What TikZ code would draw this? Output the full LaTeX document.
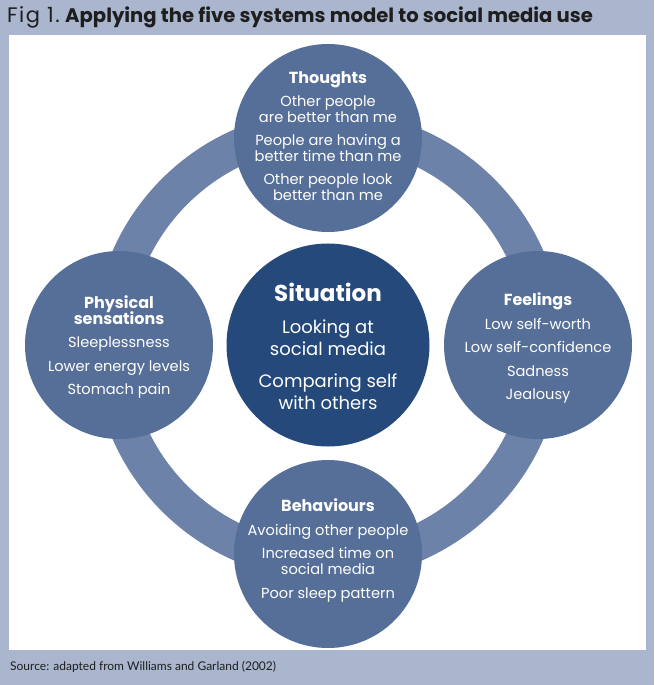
\documentclass[tikz,border=0pt]{standalone}
\usepackage{fontspec}
\setmainfont{Poppins}
\newfontfamily\srcfont{Lato}
\definecolor{frame}{HTML}{AAB5CE}
\definecolor{ringc}{HTML}{6D82A8}
\definecolor{sat}{HTML}{566F98}
\definecolor{sitc}{HTML}{24497A}
\definecolor{titlec}{HTML}{1E1E1E}
\tikzset{
  satcircle/.style={circle, fill=sat, draw=none, inner sep=0pt, minimum size=188pt},
  sitcircle/.style={circle, fill=sitc, draw=none, inner sep=0pt, minimum size=203pt},
  ctext/.style={text=white, align=center, inner sep=0pt, font=\fontsize{14.6}{16}\selectfont},
  stext/.style={text=white, align=center, inner sep=0pt, font=\fontsize{18}{22}\selectfont},
}
\newcommand{\hd}[1]{{\fontsize{16}{16}\selectfont\bfseries #1}}
\begin{document}
\begin{tikzpicture}[x=1pt,y=-1pt]
\useasboundingbox (0,0) rectangle (654,685);
\fill[frame] (0,0) rectangle (654,685);
\fill[white] (9,35) rectangle (646,650);
\node[anchor=west, inner sep=0pt, text=titlec, font=\fontsize{19.6}{24}\selectfont] (title) at (7,17) {{\fontsize{21}{24}\selectfont\addfontfeature{LetterSpace=7}Fig 1.}\hspace{4pt}\textbf{Applying the five systems model to social media use}};
\node[anchor=west, inner sep=0pt, text=titlec, font=\srcfont\fontsize{12}{15}\selectfont] (source) at (10,667) {Source: adapted from Williams and Garland (2002)};

\coordinate (c) at (328,345);
\draw[ringc, line width=36pt] (c) circle[radius=217];

\node[sitcircle] (sit) at (c) {};
\node[satcircle] (tho) at (328,138) {};
\node[satcircle] (phy) at (119,345) {};
\node[satcircle] (fee) at (538,345) {};
\node[satcircle] (beh) at (328,554) {};

\node[ctext] (thot) at ([yshift=2pt]tho.center) {\hd{Thoughts}\\[7pt]Other people\\are better than me\\[7pt]People are having a\\better time than me\\[7pt]Other people look\\better than me};
\node[stext] (sitt) at ([yshift=-1pt]sit.center) {{\fontsize{23}{24}\selectfont\bfseries Situation}\\[10pt]Looking at\\social media\\[10pt]Comparing self\\with others};
\node[ctext] (phyt) at ([yshift=-2pt]phy.center) {\hd{Physical}\\[-2pt]\hd{sensations}\\[6.5pt]Sleeplessness\\[8pt]Lower energy levels\\[7pt]Stomach pain};
\node[ctext] (feet) at ([yshift=-3pt]fee.center) {\hd{Feelings}\\[7.5pt]Low self-worth\\[7.5pt]Low self-confidence\\[7.5pt]Sadness\\[7.5pt]Jealousy};
\node[ctext] (beht) at ([yshift=3.5pt]beh.center) {\hd{Behaviours}\\[7.5pt]Avoiding other people\\[7.5pt]Increased time on\\social media\\[7.5pt]Poor sleep pattern};
\end{tikzpicture}
\end{document}
